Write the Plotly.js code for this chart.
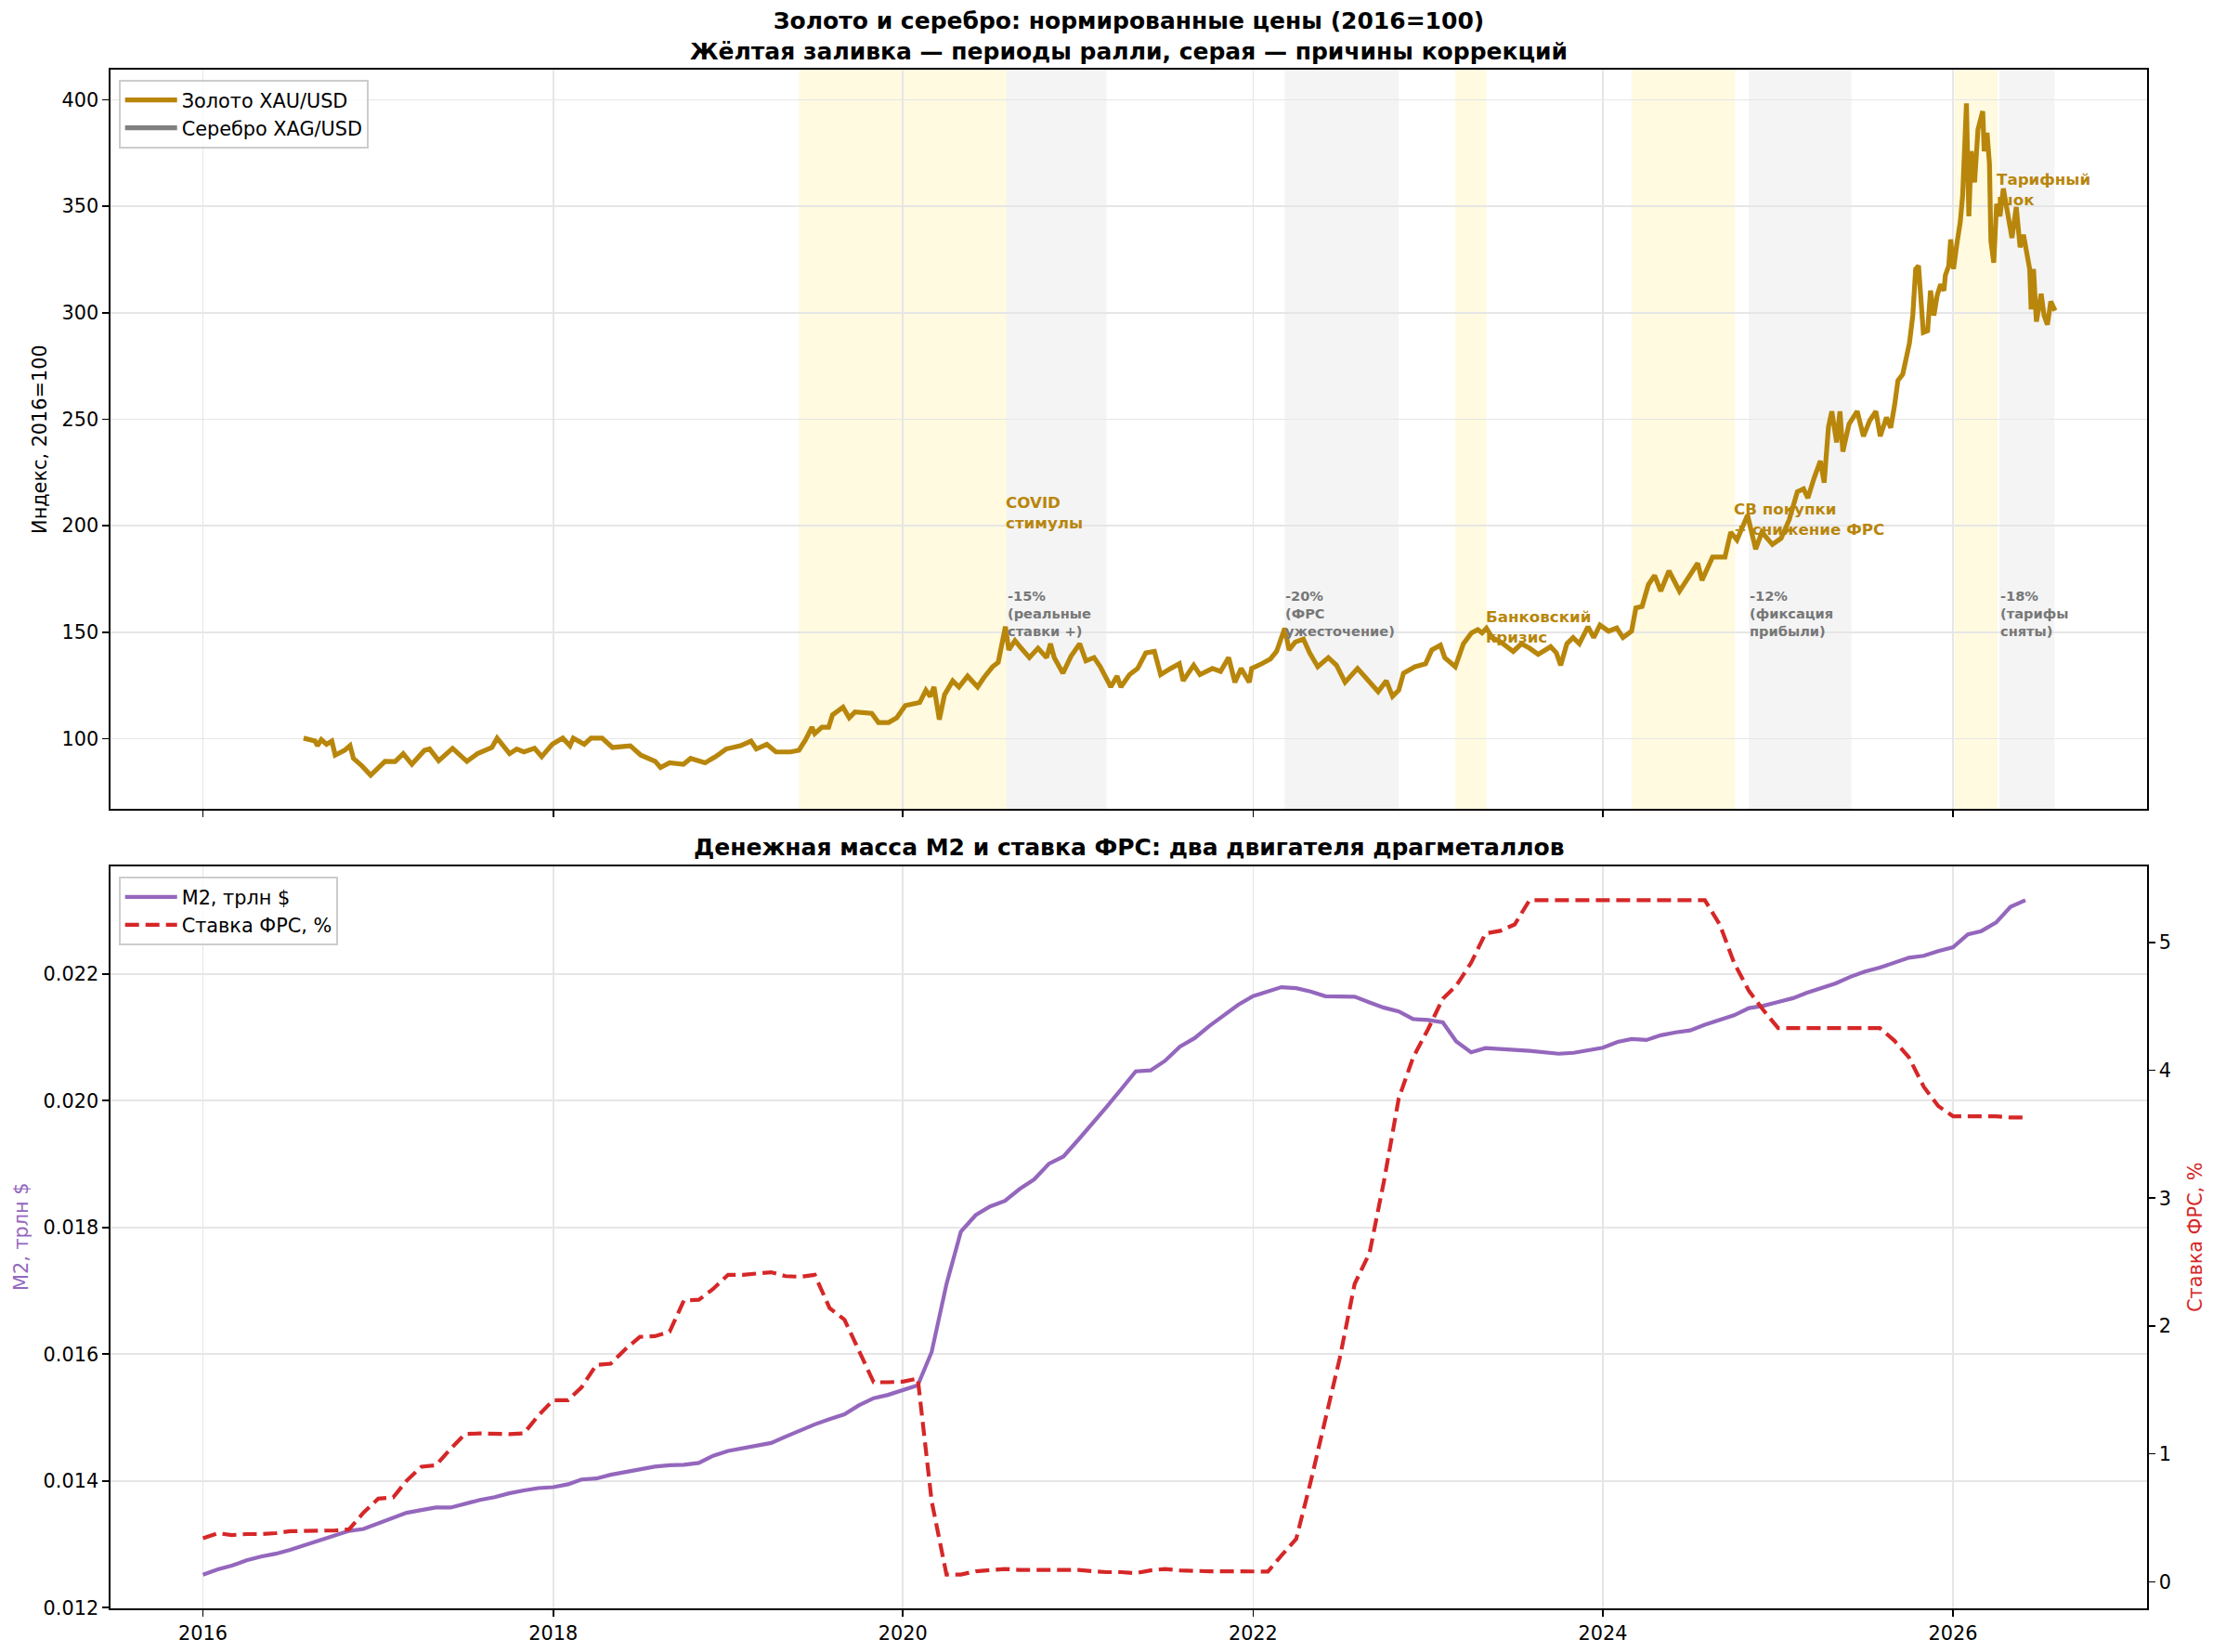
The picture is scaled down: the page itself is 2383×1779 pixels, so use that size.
<!DOCTYPE html>
<html><head><meta charset="utf-8">
<script src="https://cdn.plot.ly/plotly-3.0.1.min.js"></script>
<style>html,body{margin:0;padding:0;background:#fff}</style>
</head><body><div id="chart" style="width:2383px;height:1779px"></div>
<script>
// ---------- DATA ----------
const GOLD_DATES = [
'2016-07-29','2016-08-22','2016-08-27','2016-09-04','2016-09-15','2016-09-26','2016-10-03','2016-10-23','2016-11-03','2016-11-10','2016-11-28','2016-12-16',
'2017-01-15','2017-02-05','2017-02-22','2017-03-12','2017-04-07','2017-04-18','2017-05-07','2017-06-05','2017-07-05','2017-07-27','2017-08-26','2017-09-06','2017-10-02','2017-10-17','2017-11-01','2017-11-23','2017-12-08','2017-12-30',
'2018-01-21','2018-02-05','2018-02-12','2018-03-07','2018-03-21','2018-04-13','2018-05-05','2018-06-11','2018-07-03','2018-08-02','2018-08-13','2018-09-01','2018-09-30','2018-10-15','2018-11-14','2018-12-06','2018-12-28',
'2019-01-27','2019-02-18','2019-03-01','2019-03-23','2019-04-11','2019-05-11','2019-05-29','2019-06-12','2019-06-25','2019-07-01','2019-07-16','2019-07-30','2019-08-07','2019-08-29','2019-09-11','2019-09-23','2019-10-28','2019-11-11','2019-12-02','2019-12-19',
'2020-01-06','2020-02-05','2020-02-18','2020-02-27','2020-03-06','2020-03-17','2020-03-28','2020-04-14','2020-04-27','2020-05-15','2020-06-05','2020-06-18','2020-07-06','2020-07-18','2020-07-27','2020-08-02','2020-08-09','2020-08-22','2020-09-04','2020-09-21','2020-10-09','2020-10-27','2020-11-04','2020-11-12','2020-11-30','2020-12-17',
'2021-01-04','2021-01-17','2021-02-03','2021-02-16','2021-03-10','2021-03-23','2021-03-31','2021-04-18','2021-05-05','2021-05-22','2021-06-09','2021-06-22','2021-07-13','2021-07-31','2021-08-08','2021-08-30','2021-09-12','2021-10-08','2021-10-25','2021-11-11','2021-11-24','2021-12-07','2021-12-24','2021-12-29',
'2022-01-19','2022-02-06','2022-02-19','2022-03-08','2022-03-17','2022-03-30','2022-04-16','2022-04-29','2022-05-16','2022-06-07','2022-06-24','2022-07-12','2022-08-07','2022-08-28','2022-09-19','2022-10-06','2022-10-19','2022-11-01','2022-11-11','2022-12-05','2022-12-27',
'2023-01-09','2023-01-27','2023-02-05','2023-02-27','2023-03-16','2023-04-02','2023-04-15','2023-04-24','2023-05-03','2023-05-15','2023-06-02','2023-06-28','2023-07-15','2023-08-01','2023-08-19','2023-09-14','2023-09-26','2023-10-05','2023-10-18','2023-10-31','2023-11-13','2023-12-01','2023-12-13','2023-12-26',
'2024-01-13','2024-01-30','2024-02-12','2024-03-01','2024-03-10','2024-03-23','2024-04-05','2024-04-18','2024-05-01','2024-05-18','2024-06-09','2024-06-26','2024-07-17','2024-07-26','2024-08-17','2024-09-12','2024-09-24','2024-10-07','2024-10-29','2024-11-15','2024-11-28','2024-12-20',
'2025-01-07','2025-01-24','2025-02-10','2025-02-23','2025-03-04','2025-03-17','2025-03-30','2025-04-07','2025-04-16','2025-04-23','2025-05-03','2025-05-10','2025-05-16','2025-05-29','2025-06-15','2025-06-28','2025-07-11','2025-07-24','2025-08-02','2025-08-15','2025-08-24','2025-09-01','2025-09-08','2025-09-18','2025-09-25','2025-10-02','2025-10-09','2025-10-15','2025-10-21','2025-10-26','2025-10-31','2025-11-09','2025-11-15','2025-11-22','2025-11-29','2025-12-06','2025-12-13','2025-12-16','2025-12-23','2025-12-27',
'2026-01-02','2026-01-09','2026-01-16','2026-01-21','2026-01-29','2026-02-03','2026-02-08','2026-02-15','2026-02-22','2026-03-04','2026-03-07','2026-03-13','2026-03-18','2026-03-21','2026-03-27','2026-04-02','2026-04-09','2026-04-16','2026-04-24','2026-05-04','2026-05-13','2026-05-21','2026-05-28','2026-06-03','2026-06-10','2026-06-13','2026-06-18','2026-06-24','2026-07-04','2026-07-10','2026-07-17','2026-07-24','2026-08-02'
];
const GOLD_VALUES = [
100.3,98.9,96.7,99.6,97.4,98.9,92.3,94.6,96.8,90.8,87.2,82.9,
89.4,89.3,93.0,88.0,94.5,95.2,89.7,95.5,89.4,93.0,95.9,100.3,93.0,95.2,93.8,95.5,91.6,97.4,
100.3,96.7,100.3,97.4,100.3,100.3,95.9,96.7,92.3,89.4,86.5,88.7,88.0,90.8,88.7,91.6,95.2,
96.7,98.9,95.2,97.4,93.8,93.8,94.6,99.6,105.4,102.4,105.4,105.4,111.2,114.8,109.8,112.6,111.9,107.6,107.6,109.8,
115.6,117.0,122.8,119.9,124.3,109.0,120.7,127.2,124.3,129.4,124.3,128.7,133.8,135.9,146.1,152.6,141.7,146.1,142.5,138.1,142.5,138.1,144.6,138.1,130.8,138.8,
144.6,136.6,138.1,133.8,124.3,129.4,124.3,130.1,133.0,140.3,141.0,130.1,133.0,135.2,127.2,134.5,130.1,133.0,131.6,138.1,126.5,133.0,126.5,133.0,
135.2,137.4,141.0,151.9,141.7,145.4,146.8,140.3,133.8,138.1,134.5,126.5,133.0,127.9,122.1,127.2,119.9,122.8,130.8,133.8,135.2,
141.7,143.9,138.1,133.8,144.6,149.7,151.2,149.7,151.9,147.5,145.4,141.0,144.6,142.5,139.6,143.2,140.3,134.5,144.6,147.5,144.6,152.6,147.5,153.4,
150.5,152.0,147.5,150.5,161.4,162.1,172.3,176.6,169.3,178.8,169.3,175.2,182.4,174.4,185.3,185.3,197.0,193.3,205.0,189.0,197.0,191.2,
194.1,202.8,215.9,217.3,213.0,222.4,230.4,220.2,246.4,253.7,239.1,253.7,234.8,247.8,253.7,242.0,249.3,253.7,242.0,250.8,246.0,256.6,268.2,271.1,278.4,285.7,298.7,320.5,322.0,304.5,290.7,291.5,310.4,298.7,308.2,313.3,310.4,317.6,322.0,334.4,
320.5,332.3,342.4,354.8,398.3,345.3,375.8,361.2,385.9,394.6,375.8,384.5,369.9,333.6,323.5,351.1,345.3,358.3,346.7,335.1,349.6,330.7,336.6,327.8,320.5,301.6,320.5,295.8,308.9,298.7,294.4,305.3,300.9
];

// monthly observations, Jan 2016 .. Jun 2026
const M2_VALUES = [
0.012522,0.012604,0.012664,0.012747,0.012807,0.012852,0.012912,0.012987,0.013054,0.013129,0.013212,0.013242,
0.013332,0.013422,0.013497,0.013542,0.013580,0.013580,0.013640,0.013700,0.013745,0.013805,0.013850,0.013887,
0.013902,0.013947,0.014023,0.014038,0.014098,0.014143,0.014180,0.014225,0.014248,0.014255,0.014285,0.014398,
0.014473,0.014518,0.014570,0.014600,0.014698,0.014803,0.014893,0.014976,0.015051,0.015193,0.015306,0.015358,
0.015440,0.015508,0.016034,0.017107,0.017933,0.018195,0.018330,0.018420,0.018608,0.018758,0.019006,0.019118,
0.019381,0.019644,0.019899,0.020184,0.020462,0.020477,0.020627,0.020852,0.020987,0.021175,0.021340,0.021513,
0.021648,0.021723,0.021790,0.021775,0.021723,0.021648,0.021648,0.021640,0.021550,0.021467,0.021407,0.021287,
0.021272,0.021235,0.020935,0.020762,0.020830,0.020807,0.020800,0.020785,0.020755,0.020740,0.020755,0.020792,
0.020835,0.020927,0.020972,0.020957,0.021032,0.021077,0.021107,0.021197,0.021280,0.021347,0.021460,0.021497,
0.021557,0.021617,0.021700,0.021782,0.021850,0.021955,0.022038,0.022098,0.022180,0.022255,0.022285,0.022360,
0.022420,0.022623,0.022675,0.022811,0.023058,0.023164
];
const FED_RATE = [
0.34,0.38,0.365,0.373,0.373,0.38,0.395,0.40,0.40,0.40,0.41,0.54,
0.65,0.66,0.79,0.90,0.91,1.04,1.155,1.16,1.155,1.155,1.16,1.30,
1.42,1.42,1.52,1.695,1.705,1.82,1.915,1.92,1.955,2.20,2.205,2.29,
2.40,2.40,2.41,2.42,2.39,2.385,2.40,2.14,2.05,1.81,1.56,1.56,
1.565,1.59,0.63,0.056,0.056,0.082,0.093,0.10,0.093,0.093,0.093,0.093,
0.093,0.082,0.075,0.075,0.067,0.089,0.10,0.089,0.082,0.082,0.082,0.082,
0.082,0.08,0.205,0.335,0.78,1.27,1.75,2.33,2.57,3.13,3.78,4.10,
4.32,4.56,4.66,4.84,5.07,5.09,5.14,5.33,5.33,5.33,5.33,5.33,
5.33,5.33,5.33,5.33,5.33,5.33,5.33,5.33,5.14,4.84,4.62,4.47,
4.33,4.33,4.33,4.33,4.33,4.33,4.33,4.33,4.23,4.10,3.87,3.72,
3.64,3.64,3.64,3.64,3.63,3.63
];
const MONTHS = [];
for (let y = 2016; MONTHS.length < M2_VALUES.length; y++) {
  for (let m = 1; m <= 12 && MONTHS.length < M2_VALUES.length; m++) {
    MONTHS.push(y + '-' + String(m).padStart(2, '0') + '-01');
  }
}

const RALLY_START = ['2019-05-29','2023-02-27','2024-03-01','2026-01-04'];
const RALLY_END   = ['2020-08-04','2023-05-03','2024-10-03','2026-04-04'];
const RALLY_LABEL = ['COVID<br>стимулы','Банковский<br>кризис','CB покупки<br>+ снижение ФРС','Тарифный<br>шок'];
const CORR_START  = ['2020-08-04','2022-03-08','2024-11-01','2026-04-08'];
const CORR_END    = ['2021-03-01','2022-11-01','2025-06-03','2026-08-01'];
const CORR_LABEL  = ['-15%<br>(реальные<br>ставки +)','-20%<br>(ФРС<br>ужесточение)','-12%<br>(фиксация<br>прибыли)','-18%<br>(тарифы<br>сняты)'];

const TITLE_TOP = 'Золото и серебро: нормированные цены (2016=100)<br>Жёлтая заливка — периоды ралли, серая — причины коррекций';
const TITLE_BOTTOM = 'Денежная масса M2 и ставка ФРС: два двигателя драгметаллов';

// ---------- STYLE ----------
const GOLD = '#B8860B', SILVER = '#808080', PURPLE = '#9467bd', RED = '#d62728';
const FONT = 'DejaVu Sans';
const GRID = '#e6e6e6';
const RALLY_LABEL_Y = [216.3, 162.4, 213.3, 368.1];
const CORR_LABEL_Y = 171.8;

const traces = [
  {x: GOLD_DATES, y: GOLD_VALUES, xaxis:'x', yaxis:'y', type:'scatter', mode:'lines',
   name:'Золото XAU/USD', line:{color:GOLD, width:5.2}, legend:'legend', hoverinfo:'skip'},
  {x: [null], y: [null], xaxis:'x', yaxis:'y', type:'scatter', mode:'lines',
   name:'Серебро XAG/USD', line:{color:SILVER, width:5.2}, legend:'legend', hoverinfo:'skip'},
  {x: MONTHS, y: M2_VALUES, xaxis:'x2', yaxis:'y2', type:'scatter', mode:'lines',
   name:'M2, трлн $', line:{color:PURPLE, width:4.2}, legend:'legend2', hoverinfo:'skip'},
  {x: MONTHS, y: FED_RATE, xaxis:'x2', yaxis:'y3', type:'scatter', mode:'lines',
   name:'Ставка ФРС, %', line:{color:RED, width:4.2, dash:'15px,7px'}, legend:'legend2', hoverinfo:'skip'}
];

const shapes = [];
RALLY_START.forEach((s,i)=>shapes.push({type:'rect', xref:'x', yref:'y domain', x0:s, x1:RALLY_END[i], y0:0, y1:1,
  fillcolor:'rgba(255,215,0,0.12)', line:{width:0}, layer:'below'}));
CORR_START.forEach((s,i)=>shapes.push({type:'rect', xref:'x', yref:'y domain', x0:s, x1:CORR_END[i], y0:0, y1:1,
  fillcolor:'rgba(128,128,128,0.09)', line:{width:0}, layer:'below'}));

const annotations = [];
RALLY_END.forEach((e,i)=>annotations.push({xref:'x', yref:'y', x:e, y:RALLY_LABEL_Y[i], text:RALLY_LABEL[i],
  showarrow:false, xanchor:'left', yanchor:'top', align:'left', xshift:-3,
  font:{family:FONT, size:16.7, color:GOLD, weight:'bold'}}));
CORR_START.forEach((s,i)=>annotations.push({xref:'x', yref:'y', x:s, y:CORR_LABEL_Y, text:CORR_LABEL[i],
  showarrow:false, xanchor:'left', yanchor:'top', align:'left', xshift:-1,
  font:{family:FONT, size:14.6, color:'#777777', weight:'bold'}}));
annotations.push({xref:'paper', yref:'paper', x:0.5, y:1, yanchor:'bottom', yshift:3, showarrow:false,
  text:TITLE_TOP, font:{family:FONT, size:25, color:'black', weight:'bold'}});
annotations.push({xref:'paper', yref:'paper', x:0.5, y:0.4822, yanchor:'bottom', yshift:4, showarrow:false,
  text:TITLE_BOTTOM, font:{family:FONT, size:25, color:'black', weight:'bold'}});
annotations.push({xref:'paper', yref:'paper', x:-0.0347, y:0.7598, textangle:-90, showarrow:false,
  xanchor:'center', yanchor:'middle', text:'Индекс, 2016=100', font:{family:FONT, size:20.8, color:'black'}});
annotations.push({xref:'paper', yref:'paper', x:-0.0438, y:0.2414, textangle:-90, showarrow:false,
  xanchor:'center', yanchor:'middle', text:'M2, трлн $', font:{family:FONT, size:20.8, color:PURPLE}});
annotations.push({xref:'paper', yref:'paper', x:1.0237, y:0.2414, textangle:-90, showarrow:false,
  xanchor:'center', yanchor:'middle', text:'Ставка ФРС, %', font:{family:FONT, size:20.8, color:RED}});

const axisCommon = {showline:true, linecolor:'black', linewidth:1.7, ticks:'outside', ticklen:7, tickwidth:1.7,
  tickcolor:'black', zeroline:false, gridcolor:GRID, gridwidth:1.7, automargin:false,
  tickfont:{family:FONT, size:20.8, color:'black'}};
const XRANGE = ['2015-06-22','2027-02-10'];

const legendCommon = {xanchor:'left', yanchor:'top', bgcolor:'rgba(255,255,255,0.8)',
  bordercolor:'#cccccc', borderwidth:1.7, itemwidth:56, tracegroupgap:0,
  font:{family:FONT, size:20.8, color:'black'}};

const layout = {
  width:2383, height:1779,
  margin:{l:119, r:71, t:75, b:47, pad:0},
  paper_bgcolor:'white', plot_bgcolor:'rgba(0,0,0,0)',
  font:{family:FONT, size:20.8, color:'black'},
  hovermode:false,
  xaxis:Object.assign({}, axisCommon, {domain:[0,1], anchor:'y', type:'date', range:XRANGE,
    tick0:'2016-01-01', dtick:'M24', showticklabels:false, showgrid:true, mirror:true}),
  yaxis:Object.assign({}, axisCommon, {domain:[0.5196,1], anchor:'x', range:[67.1,414.1],
    tick0:100, dtick:50, showgrid:true, mirror:true}),
  xaxis2:Object.assign({}, axisCommon, {domain:[0,1], anchor:'y2', type:'date', range:XRANGE,
    tick0:'2016-01-01', dtick:'M24', tickformat:'%Y', showgrid:true, mirror:true}),
  yaxis2:Object.assign({}, axisCommon, {domain:[0,0.4822], anchor:'x2', range:[0.01199,0.023696],
    tick0:0.012, dtick:0.002, tickformat:'.3f', showgrid:true, mirror:true}),
  yaxis3:Object.assign({}, axisCommon, {overlaying:'y2', anchor:'x2', side:'right', range:[-0.208,5.594],
    tick0:0, dtick:1, showgrid:false}),
  legend:Object.assign({}, legendCommon, {x:0.0041, y:0.9934}),
  legend2:Object.assign({}, legendCommon, {x:0.0041, y:0.4755}),
  shapes:shapes,
  annotations:annotations
};

Plotly.newPlot('chart', traces, layout, {staticPlot:true, displayModeBar:false});
</script>
</body></html>
